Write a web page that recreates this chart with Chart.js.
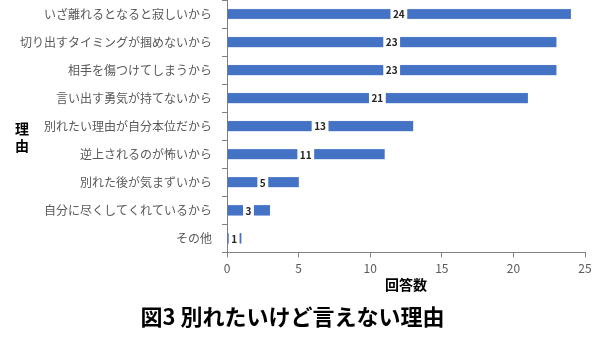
<!DOCTYPE html>
<html>
<head>
<meta charset="utf-8">
<script src="https://cdn.jsdelivr.net/npm/chart.js@4/dist/chart.umd.min.js"></script>
<style>
  html, body { margin: 0; padding: 0; background: #fff; }
  #wrap { width: 600px; height: 337px; }
</style>
</head>
<body>
<div id="wrap"><canvas id="reasons"></canvas></div>
<script>
const reasons = [
    "いざ離れるとなると寂しいから",
    "切り出すタイミングが掴めないから",
    "相手を傷つけてしまうから",
    "言い出す勇気が持てないから",
    "別れたい理由が自分本位だから",
    "逆上されるのが怖いから",
    "別れた後が気まずいから",
    "自分に尽くしてくれているから",
    "その他"
];
const answers = [24, 23, 23, 21, 13, 11, 5, 3, 1];
const xTicks = [0, 5, 10, 15, 20, 25];

const FONT = "'Noto Sans CJK JP', 'Noto Sans', sans-serif";

// value boxes in the middle of each bar
const midLabels = {
    id: 'midLabels',
    afterDatasetsDraw(chart) {
        const ctx = chart.ctx;
        const meta = chart.getDatasetMeta(0);
        const x = chart.scales.x;
        ctx.save();
        ctx.font = "bold 10px " + FONT;
        ctx.textAlign = 'center';
        ctx.textBaseline = 'middle';
        meta.data.forEach(function (bar, i) {
            const v = answers[i];
            const cx = x.getPixelForValue(v / 2);
            const w = ctx.measureText(String(v)).width + 5;
            ctx.fillStyle = '#fff';
            ctx.fillRect(cx - w / 2, bar.y - 6, w, 12);
            ctx.fillStyle = '#262626';
            ctx.fillText(String(v), cx, bar.y + 0.5);
        });
        ctx.restore();
    }
};

// stacked y title
const yTitle = {
    id: 'yTitle',
    afterDraw(chart) {
        const ctx = chart.ctx;
        ctx.save();
        ctx.font = "bold 14px " + FONT;
        ctx.fillStyle = '#000';
        ctx.textAlign = 'center';
        ctx.textBaseline = 'middle';
        ctx.fillText('理', 22, 129);
        ctx.fillText('由', 22, 146);
        ctx.restore();
    }
};

new Chart(document.getElementById('reasons'), {
    type: 'bar',
    data: {
        labels: reasons,
        datasets: [{
            data: answers,
            backgroundColor: '#4472C4',
            borderColor: '#6c90d4',
            borderWidth: 0.5,
            barThickness: 10
        }]
    },
    plugins: [midLabels, yTitle],
    options: {
        indexAxis: 'y',
        responsive: true,
        maintainAspectRatio: false,
        animation: false,
        layout: { padding: { left: 0, right: 15, top: 0, bottom: 7 } },
        plugins: {
            legend: { display: false },
            tooltip: { enabled: false },
            title: {
                display: true,
                position: 'bottom',
                text: '図3 別れたいけど言えない理由',
                color: '#000',
                font: { family: FONT, size: 22, weight: 'bold' },
                padding: { top: 11, bottom: 0 }
            }
        },
        scales: {
            x: {
                min: 0,
                max: 25,
                afterBuildTicks(scale) {
                    scale.ticks = xTicks.map(function (v) { return { value: v }; });
                },
                grid: {
                    drawOnChartArea: false,
                    tickLength: 5,
                    color: '#808080'
                },
                border: { color: '#808080', width: 1 },
                ticks: {
                    color: '#595959',
                    font: { family: FONT, size: 12 },
                    padding: 4
                },
                title: {
                    display: true,
                    text: '回答数',
                    color: '#000',
                    font: { family: FONT, size: 14, weight: 'bold' },
                    padding: { top: -4, bottom: 0 }
                }
            },
            y: {
                afterFit(scale) {
                    scale.width = 227;
                    scale.paddingTop = 0;
                    scale.paddingBottom = 0;
                },
                grid: {
                    drawOnChartArea: false,
                    tickLength: 5,
                    color: '#808080'
                },
                border: { color: '#808080', width: 1 },
                ticks: {
                    color: '#595959',
                    font: { family: FONT, size: 12 },
                    padding: 10
                }
            }
        }
    }
});
</script>
</body>
</html>
